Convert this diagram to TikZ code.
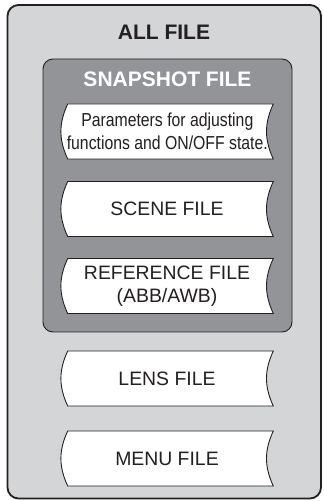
\documentclass[tikz,border=0pt]{standalone}
\usepackage{fontspec}
\setmainfont{Liberation Sans}
\newfontfamily\narrowfont[FakeStretch=0.84]{Liberation Sans}
\usetikzlibrary{positioning}
\definecolor{AllFileGray}{RGB}{212,213,215}
\definecolor{SnapGray}{RGB}{147,148,152}
\definecolor{LineDark}{RGB}{35,31,32}

\begin{document}
\begin{tikzpicture}[x=1pt,y=1pt,
 scroll/.style={draw=LineDark,fill=white,line width=0.9pt},
 label/.style={font=\fontsize{19.4}{22.7}\selectfont,align=center,text=LineDark}]
\useasboundingbox (0,0) rectangle (324,501);
% outer and snapshot boxes
\draw[draw=LineDark,fill=AllFileGray,line width=1.8pt,rounded corners=11pt]
 (7.5,2.5) rectangle (321,496);
\node[font=\fontsize{21}{24}\selectfont\bfseries,text=LineDark] (allfile) at (164,469) {ALL FILE};
\draw[draw=LineDark,fill=SnapGray,line width=0.9pt,rounded corners=10pt]
 (43,169) rectangle (292,442);
\node[font=\fontsize{21}{24}\selectfont\bfseries,text=white] (snapfile) at (167.5,422) {SNAPSHOT FILE};
% file scrolls
\foreach \ypos in {369.5,292,215,122.5,42.5} {
 \draw[scroll] (67.7,\ypos+27.5) -- (273.3,\ypos+27.5) to[bend right=25] (273.3,\ypos-27.5)
  -- (67.7,\ypos-27.5) to[bend left=25] cycle;
}
\node[label,font=\fontsize{18.8}{22.7}\narrowfont] (paramfile) at (167.3,369.5) {Parameters for adjusting\\functions and ON/OFF state.};
\foreach \name/\ypos/\txt in {scenefile/292/SCENE FILE,reffile/215/{REFERENCE FILE\\(ABB/AWB)},lensfile/122.5/LENS FILE,menufile/42.5/MENU FILE} {
 \node[label] (\name) at (167,\ypos) {\txt};
}
\end{tikzpicture}
\end{document}
